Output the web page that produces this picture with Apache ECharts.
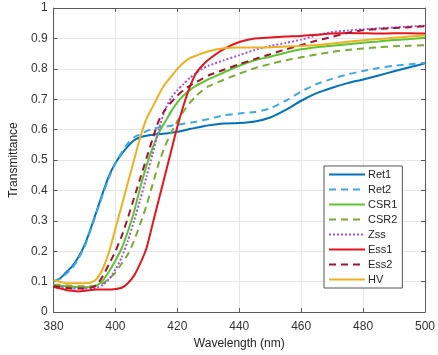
<!DOCTYPE html>
<html>
<head>
<meta charset="utf-8">
<script src="https://cdn.jsdelivr.net/npm/echarts@6/dist/echarts.min.js"></script>
<style>
html,body{margin:0;padding:0;background:#fff;}
#chart{width:438px;height:355px;}
</style>
</head>
<body>
<div id="chart"></div>
<script>
const wavelengths = [380,382,384,386,388,390,392,394,396,398,400,402,404,406,408,410,412,414,416,418,420,422,424,426,428,430,435,440,445,450,455,460,465,470,475,480,485,490,495,500];

const ret1 = [0.10,0.11,0.13,0.15,0.18,0.22,0.275,0.335,0.395,0.45,0.49,0.52,0.545,0.565,0.575,0.58,0.583,0.585,0.587,0.59,0.593,0.597,0.602,0.606,0.61,0.614,0.62,0.622,0.627,0.64,0.665,0.695,0.72,0.738,0.753,0.765,0.778,0.792,0.805,0.818];
const ret2 = [0.10,0.11,0.125,0.145,0.175,0.215,0.27,0.33,0.39,0.445,0.49,0.525,0.555,0.575,0.585,0.595,0.603,0.607,0.61,0.613,0.616,0.619,0.622,0.626,0.63,0.635,0.647,0.653,0.658,0.67,0.695,0.725,0.75,0.767,0.782,0.793,0.803,0.81,0.815,0.82];
const csr1 = [0.088,0.087,0.085,0.083,0.082,0.082,0.083,0.088,0.105,0.135,0.17,0.21,0.265,0.33,0.41,0.48,0.54,0.59,0.625,0.66,0.69,0.712,0.73,0.745,0.755,0.765,0.788,0.81,0.828,0.84,0.853,0.864,0.871,0.876,0.881,0.886,0.89,0.895,0.898,0.902];
const csr2 = [0.09,0.09,0.088,0.086,0.085,0.085,0.085,0.087,0.095,0.11,0.13,0.16,0.19,0.235,0.29,0.35,0.42,0.49,0.545,0.59,0.628,0.66,0.688,0.71,0.728,0.742,0.764,0.784,0.802,0.816,0.828,0.838,0.847,0.856,0.862,0.867,0.871,0.874,0.876,0.878];
const zss = [0.085,0.082,0.08,0.078,0.078,0.078,0.078,0.08,0.09,0.11,0.14,0.18,0.235,0.3,0.37,0.445,0.52,0.6,0.665,0.705,0.73,0.75,0.77,0.786,0.8,0.81,0.828,0.845,0.862,0.875,0.885,0.896,0.91,0.921,0.926,0.93,0.933,0.936,0.939,0.942];
const ess1 = [0.083,0.078,0.073,0.07,0.068,0.07,0.073,0.074,0.074,0.074,0.076,0.08,0.095,0.12,0.16,0.21,0.29,0.37,0.45,0.53,0.61,0.68,0.74,0.785,0.81,0.83,0.865,0.888,0.9,0.903,0.906,0.908,0.912,0.916,0.918,0.917,0.916,0.917,0.917,0.916];
const ess2 = [0.085,0.083,0.08,0.078,0.078,0.078,0.08,0.09,0.12,0.16,0.2,0.25,0.31,0.375,0.44,0.505,0.57,0.63,0.665,0.69,0.712,0.73,0.744,0.756,0.767,0.778,0.797,0.815,0.832,0.848,0.864,0.878,0.893,0.905,0.918,0.927,0.931,0.934,0.937,0.94];
const hv = [0.105,0.10,0.095,0.095,0.095,0.095,0.097,0.11,0.145,0.2,0.275,0.35,0.425,0.5,0.575,0.635,0.675,0.715,0.75,0.775,0.8,0.82,0.835,0.843,0.851,0.858,0.868,0.87,0.87,0.871,0.873,0.875,0.878,0.883,0.889,0.894,0.898,0.902,0.906,0.91];

const seriesNames = ['Ret1','Ret2','CSR1','CSR2','Zss','Ess1','Ess2','HV'];
const seriesValues = [ret1, ret2, csr1, csr2, zss, ess1, ess2, hv];
const seriesColors = ['#0072BD','#3FA9E5','#5CC631','#77AC30','#A64FE0','#E3171B','#A2142F','#EDB120'];
const seriesTypes = ['solid','dashed','solid','dashed','dotted','solid','dashed','solid'];

const xTicks = [380,400,420,440,460,480,500];
const yTicks = [0,0.1,0.2,0.3,0.4,0.5,0.6,0.7,0.8,0.9,1];

const font = "'Liberation Sans', Arial, sans-serif";
const axisColor = '#5a5a5a';
const gridColor = '#e6e6e6';

const series = seriesNames.map((name, i) => ({
  name: name,
  type: 'line',
  xAxisIndex: 0,
  yAxisIndex: 0,
  symbol: 'none',
  smooth: 0.2,
  lineStyle: {
    color: seriesColors[i],
    width: 2,
    type: seriesTypes[i] === 'dashed' ? [7, 5] : (seriesTypes[i] === 'dotted' ? [2, 2] : 'solid')
  },
  itemStyle: { color: seriesColors[i] },
  data: wavelengths.map((w, k) => [w, seriesValues[i][k]])
}));

const chart = echarts.init(document.getElementById('chart'), null, { renderer: 'canvas' });
const xBase = {
  type: 'value', min: xTicks[0], max: xTicks[xTicks.length - 1], interval: 20
};
const yBase = {
  type: 'value', min: yTicks[0], max: yTicks[yTicks.length - 1], interval: 0.1
};
chart.setOption({
  animation: false,
  backgroundColor: '#ffffff',
  textStyle: { fontFamily: font },
  grid: { left: 42, right: 13, top: 8, bottom: 37, containLabel: false },
  xAxis: [
    Object.assign({}, xBase, {
      position: 'bottom',
      name: 'Wavelength (nm)',
      nameLocation: 'middle',
      nameGap: 24,
      nameTextStyle: { color: '#262626', fontSize: 12, fontFamily: font },
      axisLine: { show: true, lineStyle: { color: axisColor, width: 1 } },
      axisTick: { show: true, inside: true, length: 4, lineStyle: { color: axisColor } },
      axisLabel: { color: '#333', fontSize: 12, margin: 9, fontFamily: font },
      splitLine: { show: true, lineStyle: { color: gridColor, width: 1 } }
    }),
    Object.assign({}, xBase, {
      position: 'top',
      axisLine: { show: true, onZero: false, lineStyle: { color: axisColor, width: 1 } },
      axisTick: { show: true, inside: true, length: 4, lineStyle: { color: axisColor } },
      axisLabel: { show: false },
      splitLine: { show: false }
    })
  ],
  yAxis: [
    Object.assign({}, yBase, {
      position: 'left',
      name: 'Transmittance',
      nameLocation: 'middle',
      nameGap: 28,
      nameRotate: 90,
      nameTextStyle: { color: '#262626', fontSize: 12, fontFamily: font },
      axisLine: { show: true, onZero: false, lineStyle: { color: axisColor, width: 1 } },
      axisTick: { show: true, inside: true, length: 4, lineStyle: { color: axisColor } },
      axisLabel: { color: '#333', fontSize: 12, margin: 6, fontFamily: font,
        formatter: v => String(Math.round(v * 10) / 10) },
      splitLine: { show: true, lineStyle: { color: gridColor, width: 1 } }
    }),
    Object.assign({}, yBase, {
      position: 'right',
      axisLine: { show: true, onZero: false, lineStyle: { color: axisColor, width: 1 } },
      axisTick: { show: true, inside: true, length: 4, lineStyle: { color: axisColor } },
      axisLabel: { show: false },
      splitLine: { show: false }
    })
  ],
  legend: {
    data: seriesNames,
    orient: 'vertical',
    left: 324,
    top: 166,
    padding: [3, 5, 3, 4],
    itemWidth: 36,
    itemHeight: 10,
    itemGap: 4,
    itemStyle: { opacity: 0 },
    backgroundColor: '#ffffff',
    borderColor: '#555',
    borderWidth: 1,
    borderRadius: 0,
    textStyle: { color: '#262626', fontSize: 11, fontFamily: font, padding: [0, 0, 0, -2] },
    selectedMode: false
  },
  series: series
});
</script>
</body>
</html>
